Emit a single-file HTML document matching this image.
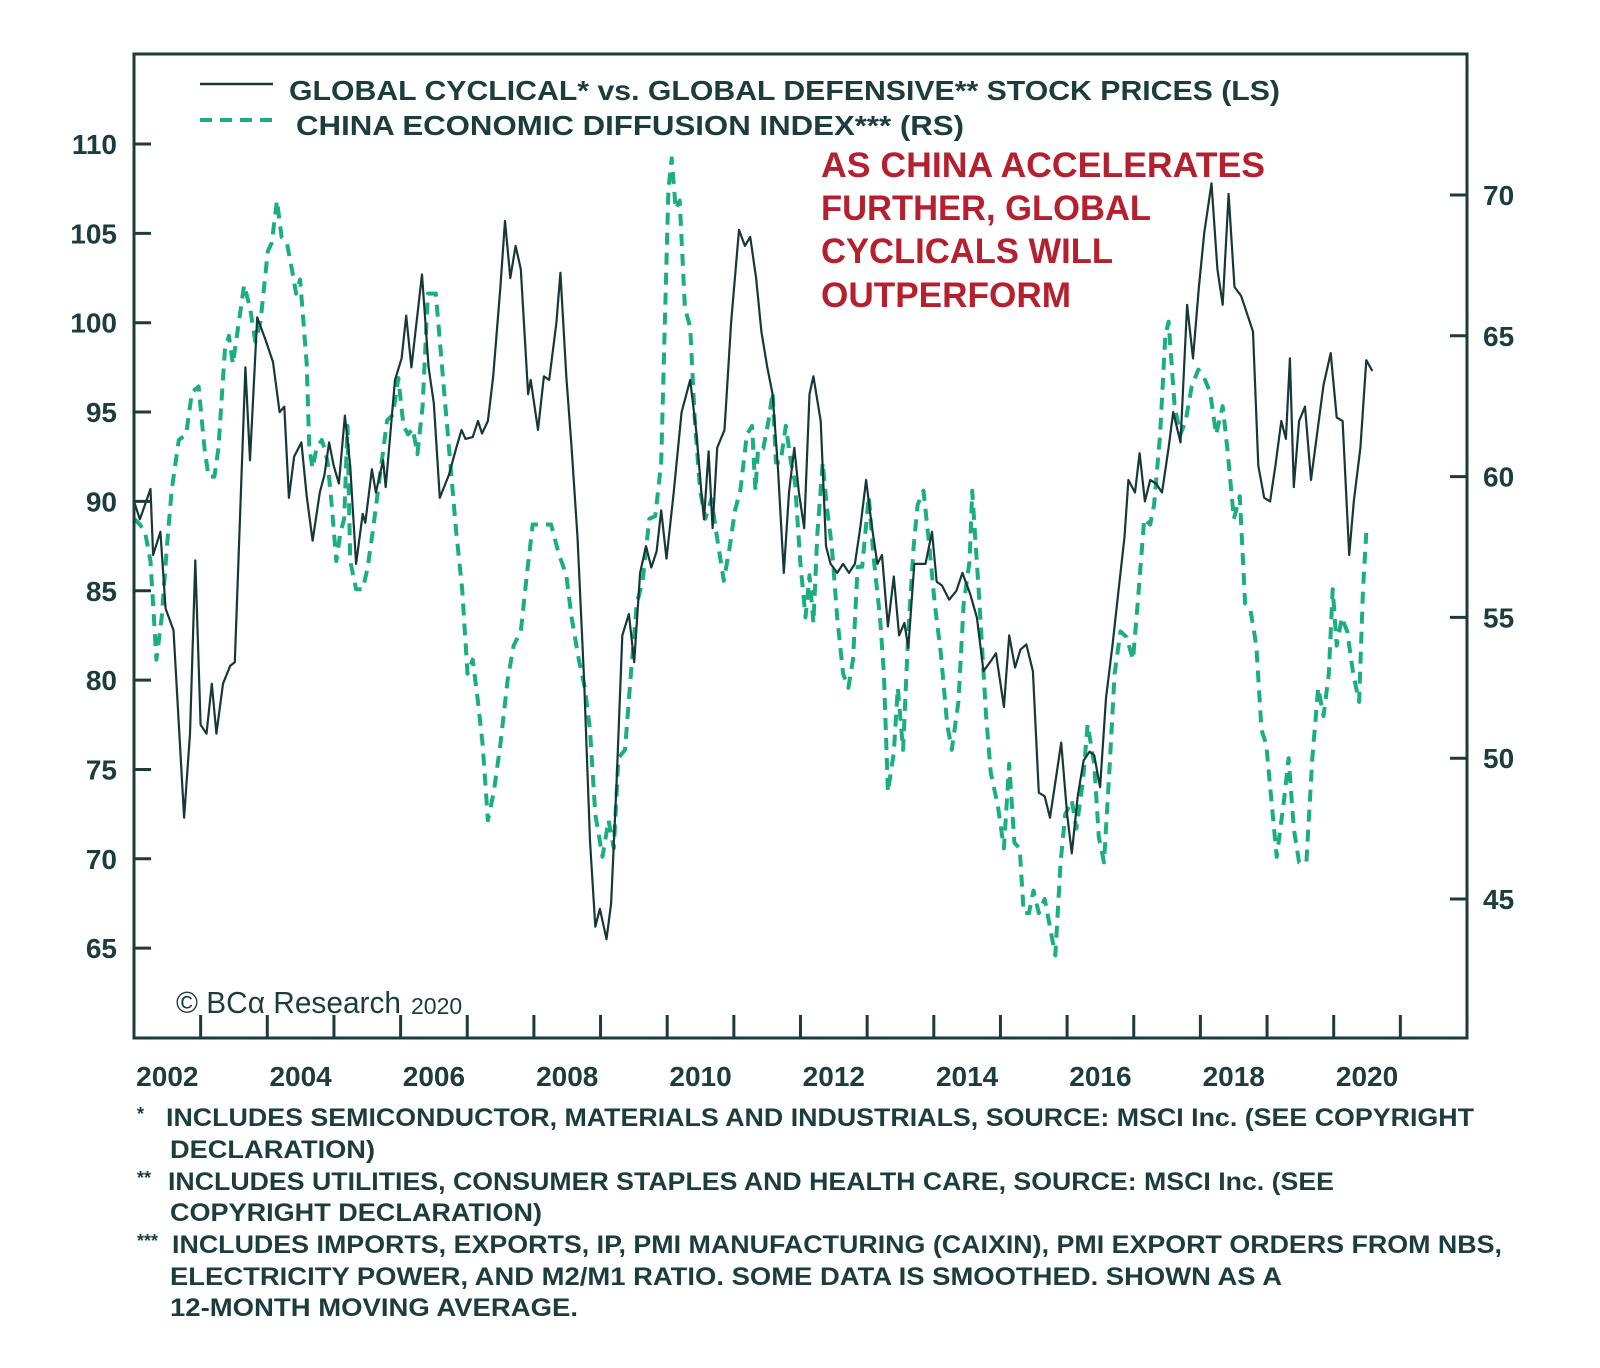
<!DOCTYPE html>
<html><head><meta charset="utf-8"><style>
html,body{margin:0;padding:0;background:#fff;}
svg{display:block;}
text{font-family:"Liberation Sans",sans-serif;}
</style></head><body>
<svg id="chart" width="1600" height="1368" viewBox="0 0 1600 1368" xmlns="http://www.w3.org/2000/svg">
<rect x="0" y="0" width="1600" height="1368" fill="#fff"/>
<g id="series"></g>
<rect x="134" y="54" width="1333" height="984" fill="none" stroke="#1c3b3b" stroke-width="3"/>
<g id="axes"></g>
<g>
<line x1="200" y1="84" x2="273" y2="84" stroke="#173838" stroke-width="2.5"/>
<text x="289" y="100" font-size="28" font-weight="bold" fill="#1c3d3d" textLength="991" lengthAdjust="spacingAndGlyphs">GLOBAL CYCLICAL* vs. GLOBAL DEFENSIVE** STOCK PRICES (LS)</text>
<line x1="200" y1="120" x2="273" y2="120" stroke="#1aae82" stroke-width="4" stroke-dasharray="12,8"/>
<text x="296" y="135" font-size="28" font-weight="bold" fill="#1c3d3d" textLength="668" lengthAdjust="spacingAndGlyphs">CHINA ECONOMIC DIFFUSION INDEX*** (RS)</text>
</g>
<g font-size="35" font-weight="bold" fill="#b5202e">
<text x="821" y="177" textLength="444" lengthAdjust="spacingAndGlyphs">AS CHINA ACCELERATES</text>
<text x="821" y="220" textLength="330" lengthAdjust="spacingAndGlyphs">FURTHER, GLOBAL</text>
<text x="821" y="263" textLength="292" lengthAdjust="spacingAndGlyphs">CYCLICALS WILL</text>
<text x="821" y="307" textLength="250" lengthAdjust="spacingAndGlyphs">OUTPERFORM</text>
</g>
<g fill="#1c3d3d">
<text x="176" y="1013" font-size="31" font-family="Liberation Serif, serif" textLength="225" lengthAdjust="spacingAndGlyphs">© BCα Research</text>
<text x="411" y="1014" font-size="23">2020</text>
</g>
<g font-size="25" font-weight="bold" fill="#1c3d3d">
<text x="137" y="1120" font-size="18">*</text>
<text x="166" y="1126" textLength="1308" lengthAdjust="spacingAndGlyphs">INCLUDES SEMICONDUCTOR, MATERIALS AND INDUSTRIALS, SOURCE: MSCI Inc. (SEE COPYRIGHT</text>
<text x="170" y="1158" textLength="205" lengthAdjust="spacingAndGlyphs">DECLARATION)</text>
<text x="137" y="1184" font-size="18">**</text>
<text x="168" y="1190" textLength="1166" lengthAdjust="spacingAndGlyphs">INCLUDES UTILITIES, CONSUMER STAPLES AND HEALTH CARE, SOURCE: MSCI Inc. (SEE</text>
<text x="170" y="1221" textLength="372" lengthAdjust="spacingAndGlyphs">COPYRIGHT DECLARATION)</text>
<text x="137" y="1247" font-size="18">***</text>
<text x="172" y="1253" textLength="1330" lengthAdjust="spacingAndGlyphs">INCLUDES IMPORTS, EXPORTS, IP, PMI MANUFACTURING (CAIXIN), PMI EXPORT ORDERS FROM NBS,</text>
<text x="170" y="1285" textLength="1112" lengthAdjust="spacingAndGlyphs">ELECTRICITY POWER, AND M2/M1 RATIO. SOME DATA IS SMOOTHED. SHOWN AS A</text>
<text x="170" y="1316" textLength="408" lengthAdjust="spacingAndGlyphs">12-MONTH MOVING AVERAGE.</text>
</g>
</svg>
<script>
// Years since Jan 2002
const cycT=[0,.09,.25,.29,.40,.48,.60,.76,.85,.93,1.01,1.10,1.18,1.25,1.35,1.46,1.53,1.69,1.76,1.87,2.00,2.11,2.21,2.28,2.35,2.43,2.54,2.62,2.71,2.82,2.89,2.96,3.03,3.11,3.20,3.28,3.37,3.47,3.51,3.61,3.67,3.78,3.82,3.96,4.06,4.13,4.21,4.37,4.47,4.55,4.64,4.78,4.89,4.97,5.03,5.14,5.22,5.28,5.37,5.45,5.56,5.63,5.71,5.79,5.87,5.98,6.02,6.13,6.22,6.30,6.41,6.47,6.56,6.64,6.73,6.83,6.92,7.00,7.07,7.17,7.24,7.32,7.41,7.51,7.59,7.68,7.77,7.85,7.93,8.00,8.08,8.19,8.31,8.44,8.53,8.61,8.65,8.72,8.78,8.85,8.96,9.06,9.18,9.27,9.35,9.44,9.52,9.61,9.69,9.77,9.86,9.94,10.02,10.09,10.17,10.25,10.31,10.42,10.50,10.57,10.67,10.76,10.85,10.94,11.02,11.11,11.20,11.28,11.35,11.44,11.53,11.61,11.69,11.75,11.84,11.92,12.01,12.11,12.18,12.26,12.37,12.48,12.57,12.69,12.79,12.89,12.99,13.08,13.20,13.28,13.37,13.45,13.54,13.64,13.73,13.82,13.90,13.99,14.07,14.16,14.23,14.32,14.41,14.50,14.57,14.66,14.75,14.85,14.94,15.03,15.09,15.19,15.26,15.34,15.42,15.51,15.60,15.70,15.77,15.88,15.98,16.07,16.16,16.24,16.35,16.44,16.52,16.61,16.70,16.80,16.89,16.98,17.06,17.15,17.24,17.32,17.41,17.48,17.54,17.60,17.68,17.77,17.86,17.96,18.05,18.16,18.25,18.34,18.44,18.51,18.61,18.70,18.79];
const cycV=[90,89,90.7,87,88.3,84,82.8,72.3,77,86.7,77.5,77,79.8,77,79.8,80.8,81,97.5,92.3,100.3,99,97.8,95,95.3,90.2,92.5,93.3,90.3,87.8,90.5,91.5,93.3,92,91,94.8,92,86.5,89.3,88.8,91.8,90.5,92.3,90.8,96.8,98,100.4,97.5,102.7,97.5,95.5,90.2,91.5,93,94,93.5,93.6,94.5,93.8,94.5,97,102,105.7,102.5,104.3,103,96,96.8,94,97,96.8,100,102.8,97,93,88,80,71,66.2,67.2,65.5,67.5,74,82.5,83.7,81,86,87.5,86.3,87.2,89.5,86.8,90.5,95,96.8,94,90.5,89,92.8,88.5,93,94,100,105.2,104.3,104.8,102.5,99.5,97.5,96,92,86,90.5,93,90.5,88.5,96,97,94.5,87.5,86.5,86,86.5,86,86.5,88.5,91.2,88.5,86.5,87,83,85.8,82.5,83.2,81.8,86.5,86.5,86.5,88.3,85.5,85.3,84.5,85,86,84.8,83.5,80.5,81,81.5,78.5,82.5,80.7,81.7,82,80.5,73.7,73.5,72.3,74.5,76.5,72.5,70.3,73.5,75.5,76,75.8,74,79,82,85,88,91.2,90.5,92.7,90,91.2,91,90.5,93,95,93.3,101,98,102,105,107.8,103,101,107.2,102,101.5,100.5,99.5,92,90.2,90,92,94.5,93.5,98,90.8,94.5,95.3,91.2,94,96.5,98.3,94.7,94.5,87,90,93,97.9,97.3];
const chinaT=[0,.09,.17,.25,.34,.42,.50,.57,.68,.79,.88,.98,1.07,1.13,1.22,1.28,1.38,1.44,1.50,1.58,1.67,1.76,1.84,1.92,2.03,2.09,2.17,2.24,2.32,2.40,2.46,2.52,2.62,2.66,2.71,2.77,2.85,2.89,2.94,3.00,3.07,3.13,3.19,3.24,3.28,3.37,3.47,3.54,3.62,3.73,3.84,3.93,4.01,4.09,4.16,4.23,4.30,4.38,4.46,4.58,4.67,4.78,4.89,4.98,5.06,5.14,5.22,5.29,5.37,5.46,5.56,5.67,5.76,5.87,5.96,6.05,6.18,6.33,6.44,6.56,6.64,6.75,6.84,6.92,7.00,7.11,7.20,7.28,7.35,7.45,7.54,7.63,7.72,7.82,7.91,8.00,8.05,8.11,8.16,8.22,8.28,8.36,8.44,8.51,8.59,8.67,8.76,8.85,8.95,9.04,9.12,9.20,9.30,9.38,9.43,9.47,9.55,9.63,9.69,9.74,9.81,9.89,9.97,10.03,10.11,10.19,10.25,10.31,10.37,10.45,10.51,10.59,10.67,10.76,10.84,10.91,10.98,11.05,11.15,11.22,11.32,11.38,11.44,11.53,11.59,11.67,11.75,11.83,11.89,11.98,12.07,12.15,12.24,12.34,12.41,12.51,12.59,12.68,12.72,12.83,12.93,13.00,13.11,13.20,13.28,13.36,13.44,13.50,13.58,13.65,13.73,13.82,13.90,13.98,14.06,14.13,14.23,14.30,14.40,14.47,14.57,14.64,14.72,14.80,14.88,14.97,15.06,15.16,15.23,15.33,15.42,15.48,15.57,15.65,15.70,15.79,15.88,15.96,16.05,16.15,16.24,16.33,16.42,16.52,16.59,16.69,16.78,16.86,16.94,17.03,17.11,17.18,17.26,17.34,17.45,17.52,17.60,17.68,17.79,17.88,17.97,18.05,18.13,18.19,18.25,18.33,18.41,18.50,18.59,18.65,18.70];
const chinaV=[58.5,58.3,58,57,53.5,55,57.5,59.5,61.3,61.5,63,63.2,61,60,60,61,64.5,65,64,65.3,66.8,66,64.8,65.5,68,68.3,69.8,68.5,68.3,67.3,66.5,67,64,61,60.3,61,61.3,61,60.5,59,57,58,58.5,61.8,57,56,56,56.7,58,60,62,62.2,63.5,61.8,61.5,61.7,60.8,62.5,66.5,66.5,64,61,58,56,53,53.5,52,50.5,47.8,48.8,50.5,52.8,54,54.5,56.5,58.3,58.3,58.3,57.3,56.5,55,53.5,52.5,51,48,46.5,47.8,46.8,50,50.3,53,55.5,56.3,58.5,58.6,60.5,65,70.2,71.3,69.5,69.8,66,65.3,62,59.5,58.5,59.2,57.8,56.3,57.5,58.8,59.5,61.5,61.8,59.5,61,61,62,63,60.5,60.5,61.8,60.5,59.8,57,55,56.5,54.8,58,60.5,59,57.5,55,53,52.5,53.5,56.8,56.8,59.3,57.2,55,53,48.8,50.2,52.5,50.3,54.5,57.5,59,59.5,57.5,55.5,53.8,51.2,50.3,52,55.5,57,59.5,55.5,51.5,49.5,48.3,46.8,49.8,47,46.8,44.5,44.5,45.3,44.5,45,44,43,46.3,48,48.5,47.5,49.2,51.2,49.8,47.2,46.3,49.5,53,54.5,54.3,53.5,55.5,58.5,58.3,59,61.5,65,65.5,62.5,61.5,62,63.2,63.8,63.5,63,61.5,62.5,61,58.5,59.3,55.5,55.3,54,51,50.5,48.5,46.5,48.5,50,47.5,46.3,46.3,50,52.5,51.5,53,56,54,55,54.5,53,52,56,58];
const leftTicks=[110,105,100,95,90,85,80,75,70,65];
const rightTicks=[70,65,60,55,50,45];
const yearLabels=[2002,2004,2006,2008,2010,2012,2014,2016,2018,2020];

const NS='http://www.w3.org/2000/svg';
const X0=134,YW=66.65,DW=65.9,FIRSTYEAR=2002;
function xT(t){return X0+t*DW;}
function xYear(y){return X0+(y-FIRSTYEAR)*YW;}
function yL(v){return 144+(110-v)*17.87;}
function yR(v){return 195+(70-v)*28.16;}
function mk(tag,attrs,parent){const e=document.createElementNS(NS,tag);for(const k in attrs)e.setAttribute(k,attrs[k]);parent.appendChild(e);return e;}

const series=document.getElementById('series');
const axes=document.getElementById('axes');

let dG='';chinaT.forEach((t,i)=>{dG+=(i?'L':'M')+xT(t).toFixed(1)+','+yR(chinaV[i]).toFixed(1);});
const pg=mk('path',{d:dG,fill:'none',stroke:'#1aae82','stroke-width':4,'stroke-dasharray':'12,8','stroke-linejoin':'round'},series);



let dB='';cycT.forEach((t,i)=>{dB+=(i?'L':'M')+xT(t).toFixed(1)+','+yL(cycV[i]).toFixed(1);});
const pb=mk('path',{d:dB,fill:'none',stroke:'#173838','stroke-width':2.2,'stroke-linejoin':'round'},series);



leftTicks.forEach(v=>{
  const y=yL(v);
  const l=mk('line',{x1:134,x2:151,y1:y,y2:y,stroke:'#1c3b3b','stroke-width':3},axes);
  
  
  const t=mk('text',{x:117,y:y+10,'text-anchor':'end','font-size':28,'font-weight':'bold',fill:'#1c3d3d'},axes);
  t.textContent=v;
  
  
});
rightTicks.forEach(v=>{
  const y=yR(v);
  const l=mk('line',{x1:1450,x2:1467,y1:y,y2:y,stroke:'#1c3b3b','stroke-width':3},axes);
  
  
  const t=mk('text',{x:1483,y:y+10,'font-size':28,'font-weight':'bold',fill:'#1c3d3d'},axes);
  t.textContent=v;
  
  
});
for(let yr=2003;yr<=2021;yr++){
  const x=xYear(yr);
  const l=mk('line',{x1:x,x2:x,y1:1015,y2:1038,stroke:'#1c3b3b','stroke-width':3},axes);
  
  
}
yearLabels.forEach(yr=>{
  const t=mk('text',{x:xYear(yr)+YW/2,y:1086,'text-anchor':'middle','font-size':28,'font-weight':'bold',fill:'#1c3d3d'},axes);
  t.textContent=yr;
  
  
});
</script>
</body></html>
